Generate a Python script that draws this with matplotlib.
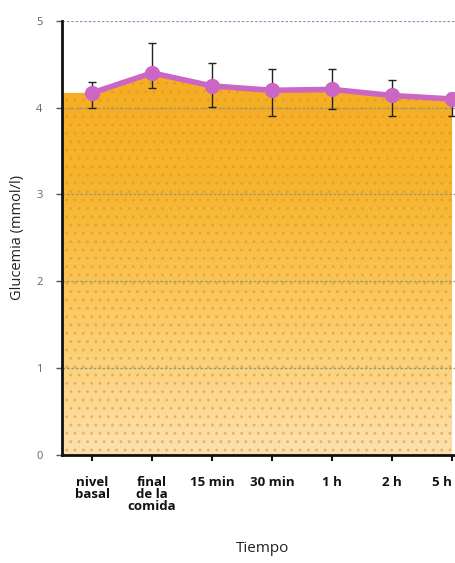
import numpy as np
import matplotlib
matplotlib.use('Agg')
import matplotlib.pyplot as plt
from matplotlib.colors import LinearSegmentedColormap

plt.rcParams['font.family'] = ['Open Sans', 'DejaVu Sans']

# datos
etiquetas = ['nivel\nbasal', 'final\nde la\ncomida', '15 min', '30 min', '1 h', '2 h', '5 h']
glucemia = [4.17, 4.40, 4.25, 4.20, 4.21, 4.14, 4.10]
err_sup = [4.29, 4.75, 4.52, 4.45, 4.45, 4.32, 4.17]
err_inf = [4.00, 4.23, 4.01, 3.90, 3.98, 3.90, 3.90]


def main():
    fig = plt.figure(figsize=(4.56, 5.63), dpi=100)
    ax = fig.add_axes([0.136, 0.192, 0.862, 0.771])

    x = np.arange(len(glucemia))
    y = np.array(glucemia)

    # area con degradado naranja
    xs = np.concatenate([[-0.5], x])
    ys = np.concatenate([[y[0]], y])
    poly = ax.fill_between(xs, 0, ys, color='none', lw=0)
    cmap = LinearSegmentedColormap.from_list('nar', ['#fde0ae', '#fbcd6a', '#f7b630', '#f5ad22'])
    grad = np.linspace(0, 1, 256).reshape(-1, 1)
    im = ax.imshow(grad, aspect='auto', cmap=cmap, origin='lower',
                   extent=[-0.5, 6.05, 0, 4.45], zorder=1)
    path = poly.get_paths()[0]
    im.set_clip_path(path, transform=ax.transData)
    # textura de puntos
    ax.fill_between(xs, 0, ys, facecolor='none', edgecolor='#e08a30',
                    hatch='..', lw=0, alpha=0.4, zorder=1.5)

    # lineas horizontales
    for v in [1, 2, 3, 4]:
        ax.axhline(v, color='#a09a68', lw=1.0, ls=(0, (2, 1.2)), zorder=2)
    ax.axhline(5, color='#9090c0', lw=0.9, ls=(0, (2, 1.5)), zorder=2)

    yerr = [y - np.array(err_inf), np.array(err_sup) - y]
    ax.errorbar(x, y, yerr=yerr, fmt='none', ecolor='#222222', elinewidth=1.0,
                capsize=3, capthick=1.0, zorder=3)
    ax.plot(x, y, color='#cc66c4', lw=4, marker='o', markersize=10,
            markerfacecolor='#cc66c4', markeredgecolor='#cc66c4', zorder=4)

    ax.set_xlim(-0.5, 6.05)
    ax.set_ylim(0, 5)
    ax.set_yticks([0, 1, 2, 3, 4, 5])
    ax.set_yticklabels(['0', '1', '2', '3', '4', '5'], color='#666666', fontsize=8)
    ax.set_xticks(x)
    ax.set_xticklabels(etiquetas, fontweight='bold', fontsize=9.5, color='#111111',
                       va='top', linespacing=0.9)
    ax.get_xticklabels()[-1].set_horizontalalignment('right')
    ax.get_xticklabels()[-1].set_x(6.05)
    ax.tick_params(axis='x', length=4, width=1.5, color='#111111', pad=11)
    ax.tick_params(axis='y', length=4, width=1.0, color='#555555', pad=10)

    for s in ['top', 'right']:
        ax.spines[s].set_visible(False)
    ax.spines['left'].set_linewidth(2)
    ax.spines['bottom'].set_linewidth(2)
    ax.spines['left'].set_color('#111111')
    ax.spines['bottom'].set_color('#111111')
    ax.spines['left'].set_zorder(5)

    ax.set_ylabel('Glucemia (mmol/l)', fontsize=10.5, color='#222222', labelpad=8)
    fig.text(0.575, 0.02, 'Tiempo', fontsize=11, color='#222222', ha='center')

    fig.savefig('out.png', dpi=100)


if __name__ == '__main__':
    main()
